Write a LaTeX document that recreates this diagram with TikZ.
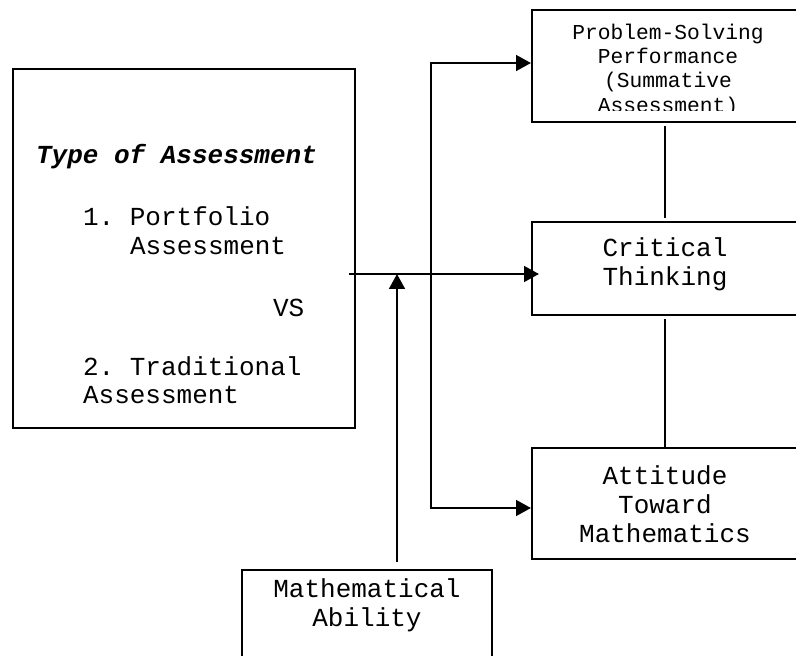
\documentclass[tikz,border=0pt]{standalone}
\usepackage{fontspec}
\setmonofont{Liberation Mono}
\usetikzlibrary{arrows.meta,positioning}

\newcommand{\mainfnt}{\ttfamily\fontsize{14.8}{16.5}\selectfont}
\newcommand{\smallfnt}{\ttfamily\fontsize{12.1}{13.7}\selectfont}

\begin{document}
\begin{tikzpicture}[x=0.02cm,y=-0.02cm,>={Triangle[length=8.5pt,width=9pt]},line width=1.2pt]
    \tikzset{block/.style={draw,inner sep=0pt,minimum width=5.32cm}}
    \tikzset{txt/.style={inner sep=0pt,anchor=base,align=center,font=\mainfnt}}
    \tikzset{ltxt/.style={inner sep=0pt,anchor=base west,font=\mainfnt}}
    \tikzset{link/.style={->}}

    \useasboundingbox (0,0) rectangle (796,656);

    % Left (type of assessment)
    \node[block,minimum width=6.84cm,minimum height=7.18cm] (assess) at (184,248.5) {};
    \node[ltxt,font=\mainfnt\bfseries\itshape] (atitle) at (35,163) {Type of Assessment};
    \node[ltxt] (port) at (82,225) {1. Portfolio};
    \node[ltxt] (porta) at (129,254) {Assessment};
    \node[ltxt] (vs) at (272,316) {VS};
    \node[ltxt] (trad) at (82,375) {2. Traditional};
    \node[ltxt] (trada) at (82,403) {Assessment};

    % Right column (outcomes); base = last line
    \node[block,minimum height=2.24cm] (psp) at (665,66) {};
    \begin{scope}
      \clip (532,10) rectangle (798,110);
      \node[txt,font=\smallfnt] (psptxt) at (668,112) {Problem-Solving\\Performance\\(Summative\\Assessment)};
    \end{scope}

    \node[block,minimum height=1.86cm] (crit) at (665,268.5) {};
    \node[txt] (crittxt) at (665,285) {Critical\\Thinking};

    \node[block,minimum height=2.22cm] (attit) at (665,503.5) {};
    \node[txt] (attittxt) at (665,542) {Attitude\\Toward\\Mathematics};

    \draw[shorten <=0.06cm,shorten >=0.06cm] (psp.south) -- (crit.north);
    \draw[shorten <=0.06cm] (crit.south) -- (attit.north);

    % Bottom (moderator)
    \node[block,minimum width=5cm,minimum height=2.2cm] (mathab) at (367,625) {};
    \node[txt] (mathtxt) at (367,626) {Mathematical\\Ability};

    % Arrows: assessment into outcomes
    \coordinate (src) at (349,274);
    \coordinate (split) at (431,274);
    \draw[link] (src) -- ([xshift=0.16cm]src -| crit.west);
    \draw[link] (split) |- ([yshift=0.06cm]psp.west);
    \draw[link] (split) |- ([yshift=-0.09cm]attit.west);

    % Arrow: ability acts on the main path
    \coordinate (mtail) at (397,562);
    \draw[link] (mtail) -- (mtail |- src);
\end{tikzpicture}
\end{document}
